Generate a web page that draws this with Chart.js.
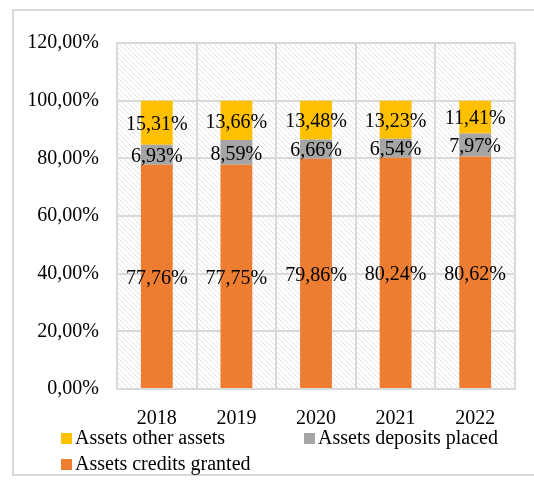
<!DOCTYPE html>
<html>
<head>
<meta charset="utf-8">
<script src="https://cdn.jsdelivr.net/npm/chart.js@4"></script>
<style>
  body { margin: 0; background: #fff; overflow: hidden; }
  #wrap { position: relative; width: 534px; height: 481px; }
  #frame { position: absolute; left: 12px; top: 9px; width: 560px; height: 467px; border: 2px solid #d9d9d9; box-sizing: border-box; }
  canvas { position: absolute; left: 0; top: 0; }
  .lg { position: absolute; font: 20px "Liberation Serif", serif; color: #000; white-space: nowrap; line-height: 20px; }
  .lg i { display: inline-block; width: 11px; height: 11px; margin-right: 3px; vertical-align: 0px; }
</style>
</head>
<body>
<div id="wrap">
  <div id="frame"></div>
  <canvas id="chartEl" width="534" height="481"></canvas>
  <div id="legend"></div>
</div>
<script>
const years = ["2018", "2019", "2020", "2021", "2022"];
const credits = [77.76, 77.75, 79.86, 80.24, 80.62];
const deposits = [6.93, 8.59, 6.66, 6.54, 7.97];
const other = [15.31, 13.66, 13.48, 13.23, 11.41];
const yTicks = [0, 20, 40, 60, 80, 100, 120];

const ORANGE = "#ED7D31", GRAY = "#A5A5A5", YELLOW = "#FFC000";
const FONT = "'Liberation Serif', 'Times New Roman', serif";

const pct = v => v.toFixed(2).replace(".", ",") + "%";

// hatched plot background
function hatch() {
  const c = document.createElement("canvas");
  c.width = 5; c.height = 5;
  const g = c.getContext("2d");
  g.fillStyle = "#fff";
  g.fillRect(0, 0, 5, 5);
  g.strokeStyle = "#e2e2e2";
  g.lineWidth = 1;
  g.beginPath();
  g.moveTo(-1, -1); g.lineTo(6, 6);
  g.moveTo(-1, 4); g.lineTo(1, 6);
  g.moveTo(4, -1); g.lineTo(6, 1);
  g.stroke();
  return g.createPattern(c, "repeat");
}

const bgPlugin = {
  id: "bg",
  beforeDraw(chart) {
    const { ctx, chartArea: a } = chart;
    ctx.save();
    ctx.fillStyle = hatch();
    ctx.fillRect(a.left, a.top, a.right - a.left, a.bottom - a.top);
    ctx.restore();
  }
};

const labelPlugin = {
  id: "vals",
  afterDatasetsDraw(chart) {
    const ctx = chart.ctx;
    ctx.save();
    ctx.font = "20px " + FONT;
    ctx.fillStyle = "#000";
    ctx.textAlign = "center";
    ctx.textBaseline = "middle";
    chart.data.datasets.forEach((ds, i) => {
      chart.getDatasetMeta(i).data.forEach((el, j) => {
        ctx.fillText(pct(ds.data[j]), el.x, (el.y + el.base) / 2 + 2);
      });
    });
    ctx.restore();
  }
};

new Chart(chartEl, {
  type: "bar",
  data: {
    labels: years,
    datasets: [
      { label: "Assets credits granted", data: credits, backgroundColor: ORANGE },
      { label: "Assets deposits placed", data: deposits, backgroundColor: GRAY },
      { label: "Assets other assets", data: other, backgroundColor: YELLOW }
    ]
  },
  options: {
    responsive: false,
    animation: false,
    layout: { padding: { left: 0, top: 43, right: 19, bottom: 0 } },
    datasets: { bar: { barPercentage: 0.4, categoryPercentage: 1 } },
    plugins: { legend: { display: false }, tooltip: { enabled: false } },
    scales: {
      x: {
        stacked: true,
        grid: { color: "#d9d9d9", lineWidth: 2, drawTicks: false },
        border: { color: "#d9d9d9", width: 2 },
        ticks: { color: "#000", font: { family: FONT, size: 20 }, padding: 18 },
        afterFit: s => { s.height = 92; }
      },
      y: {
        stacked: true,
        min: 0, max: 120,
        afterBuildTicks: s => { s.ticks = yTicks.map(v => ({ value: v })); },
        grid: { color: "#d9d9d9", lineWidth: 2, drawTicks: false },
        border: { color: "#d9d9d9", width: 2 },
        ticks: { color: "#000", font: { family: FONT, size: 20 }, padding: 18, callback: v => pct(v) },
        afterFit: s => { s.width = 117; }
      }
    }
  },
  plugins: [bgPlugin, labelPlugin]
});

// legend, laid out like the office chart: two columns
const legendItems = [
  { text: "Assets other assets", color: YELLOW, x: 61, y: 427 },
  { text: "Assets deposits placed", color: GRAY, x: 304, y: 427 },
  { text: "Assets credits granted", color: ORANGE, x: 61, y: 453 }
];
legendItems.forEach(it => {
  const d = document.createElement("div");
  d.className = "lg";
  d.style.left = it.x + "px";
  d.style.top = it.y + "px";
  d.innerHTML = `<i style="background:${it.color}"></i>${it.text}`;
  legend.appendChild(d);
});
</script>
</body>
</html>
